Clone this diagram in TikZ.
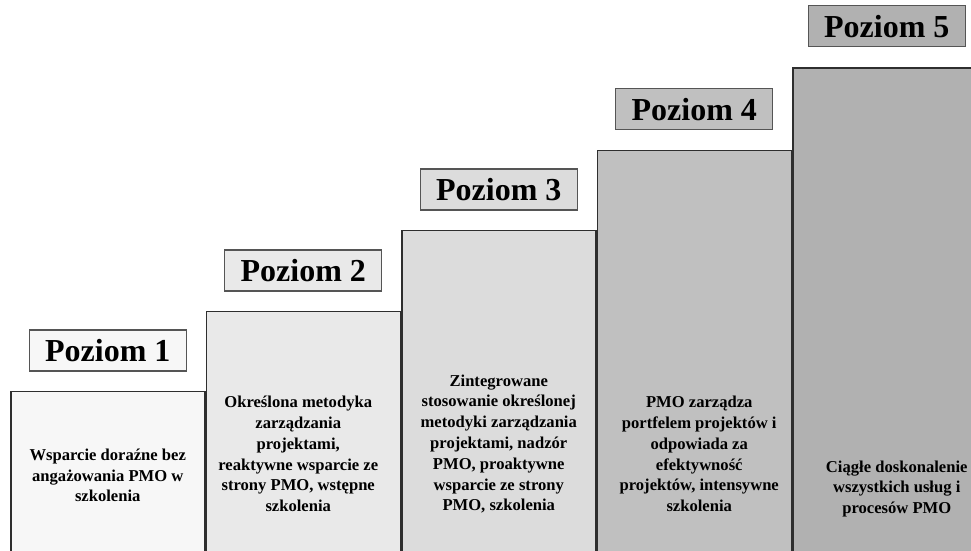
\documentclass[tikz,border=0pt]{standalone}
\usepackage{fontspec}
\setmainfont{Liberation Serif}
\usepackage{tikz}
\usetikzlibrary{positioning}
\definecolor{lvla}{HTML}{F7F7F7}
\definecolor{lvlb}{HTML}{E9E9E9}
\definecolor{lvlc}{HTML}{DCDCDC}
\definecolor{lvld}{HTML}{C0C0C0}
\definecolor{lvle}{HTML}{B1B1B1}
\definecolor{stepline}{HTML}{2E2E2E}
\definecolor{tagline}{HTML}{555555}
\tikzstyle{stepbox} = [rectangle, draw=stepline, line width=1.5pt, minimum width=194pt, anchor=south west, inner sep=0pt]
\tikzstyle{levelbox} = [rectangle, draw=tagline, line width=1.1pt, minimum width=157pt, minimum height=41pt, inner sep=0pt, font=\fontsize{32}{36}\selectfont\bfseries]
\tikzstyle{desc} = [align=center, inner sep=0pt, font=\fontsize{16.6}{20.8}\selectfont\bfseries]

\begin{document}
\begin{tikzpicture}[x=1pt, y=1pt, node distance=19pt]
    \useasboundingbox (0,0) rectangle (971,550);
    \clip (0,0) rectangle (971,550);
    % steps
    \node [stepbox, fill=lvla, minimum height=168pt] (s1) at (10,-10) {};
    \node [stepbox, fill=lvlb, minimum height=248pt] (s2) at (s1.south east) {};
    \node [stepbox, fill=lvlc, minimum height=329pt] (s3) at (s2.south east) {};
    \node [stepbox, fill=lvld, minimum height=409pt] (s4) at (s3.south east) {};
    \node [stepbox, fill=lvle, minimum height=491pt] (s5) at (s4.south east) {};
    % level tags
    \node [levelbox, fill=lvla, above=of s1] (p1) {Poziom 1};
    \node [levelbox, fill=lvlb, above=of s2] (p2) {Poziom 2};
    \node [levelbox, fill=lvlc, above=of s3] (p3) {Poziom 3};
    \node [levelbox, fill=lvld, above=of s4] (p4) {Poziom 4};
    \node [levelbox, fill=lvle, above=20pt of s5, xshift=-3pt] (p5) {Poziom 5};
    % descriptions
    \node [desc] (d1) at ([yshift=84.5pt]s1.south) {Wsparcie doraźne bez\\angażowania PMO w\\szkolenia};
    \node [desc] (d2) at ([xshift=-5pt, yshift=106pt]s2.south) {Określona metodyka\\zarządzania\\projektami,\\reaktywne wsparcie ze\\strony PMO, wstępne\\szkolenia};
    \node [desc] (d3) at ([yshift=116pt]s3.south) {Zintegrowane\\stosowanie określonej\\metodyki zarządzania\\projektami, nadzór\\PMO, proaktywne\\wsparcie ze strony\\PMO, szkolenia};
    \node [desc] (d4) at ([xshift=5pt, yshift=106pt]s4.south) {PMO zarządza\\portfelem projektów i\\odpowiada za\\efektywność\\projektów, intensywne\\szkolenia};
    \node [desc] (d5) at ([xshift=7pt, yshift=71pt]s5.south) {Ciągłe doskonalenie\\wszystkich usług i\\procesów PMO};
\end{tikzpicture}
\end{document}
